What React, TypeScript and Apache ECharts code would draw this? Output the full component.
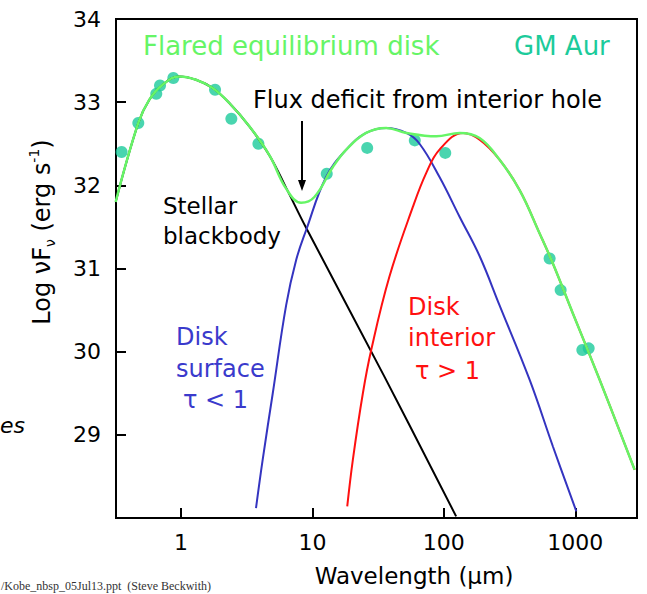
import React, { useEffect, useRef } from "react";
import * as echarts from "echarts";

// Axis extents and ticks (wavelength in microns, log10 of nu*F_nu in erg/s)
const WAVELENGTH_RANGE_UM = [0.32, 2950];
const LOG_FLUX_RANGE = [28, 34];
const X_TICKS_UM = [1, 10, 100, 1000];

// Stellar blackbody
const STAR_UM = [0.318, 0.473, 0.574, 0.724, 0.97, 1.3, 1.74, 2.33, 3.31, 4.71, 6.31, 8.95, 35.3, 124];
const STAR_FLUX = [31.8, 32.75, 33.03, 33.21, 33.31, 33.27, 33.17, 32.99, 32.71, 32.36, 31.97, 31.49, 29.7, 28.02];

// Optically thin disk surface (tau < 1)
const SURFACE_UM = [3.72, 4.18, 4.99, 6.31, 7.51, 8.95, 12.7, 18.1, 25.6, 36.4, 51.8, 65.3, 92.7, 132, 187, 265, 450, 676, 1019];
const SURFACE_FLUX = [28.12, 28.7, 29.5, 30.56, 31.1, 31.46, 32.1, 32.43, 32.63, 32.69, 32.63, 32.5, 32.1, 31.62, 31.15, 30.56, 29.66, 28.86, 28.08];

// Optically thick disk interior (tau > 1)
const INTERIOR_UM = [18.4, 20.3, 24.2, 28.0, 38.5, 58.1, 73.5, 92.7, 140, 187, 265, 378, 536, 676, 959, 1535, 2831];
const INTERIOR_FLUX = [28.14, 28.7, 29.5, 30.02, 30.9, 31.74, 32.15, 32.43, 32.63, 32.55, 32.31, 31.94, 31.42, 31.06, 30.46, 29.66, 28.58];

// Flared equilibrium disk model (total)
const MODEL_UM = [0.318, 0.473, 0.574, 0.724, 0.97, 1.3, 1.74, 2.33, 3.31, 4.71, 6.31, 8.2, 10.35, 14.3, 18.1, 25.6, 36.4, 51.8, 87.5, 132, 187, 265, 378, 536, 676, 959, 1535, 2831];
const MODEL_FLUX = [31.8, 32.75, 33.03, 33.21, 33.31, 33.27, 33.17, 32.99, 32.71, 32.36, 31.96, 31.79, 31.86, 32.22, 32.43, 32.63, 32.69, 32.63, 32.59, 32.63, 32.57, 32.31, 31.94, 31.42, 31.06, 30.46, 29.66, 28.58];

// GM Aur photometry
const OBS_UM = [0.353, 0.473, 0.648, 0.692, 0.874, 1.815, 2.415, 3.88, 12.85, 26.1, 60.1, 102.5, 638, 774, 1132, 1265];
const OBS_FLUX = [32.4, 32.75, 33.1, 33.2, 33.29, 33.15, 32.8, 32.5, 32.14, 32.45, 32.54, 32.39, 31.12, 30.74, 30.02, 30.04];

const FONT = "DejaVu Sans";
const GREEN = "#66f566";
const TEAL = "#1ccb9b";
const BLUE_LINE = "#3434c0";
const BLUE_TEXT = "#3a3acc";
const RED = "#ff1010";

const toPoints = (um: number[], flux: number[]) => um.map((w, i) => [Math.log10(w), flux[i]]);

const label = (text: string, x: number, y: number, fill: string, size: number, extra: any = {}) => ({
  type: "text",
  x,
  y,
  silent: true,
  style: { text, fill, fontSize: size, fontFamily: FONT, align: "left", verticalAlign: "middle", ...extra },
});

export default function App() {
  const ref = useRef<HTMLDivElement>(null);

  useEffect(() => {
    document.body.style.margin = "0";
    const chart = echarts.init(ref.current!, null, { renderer: "svg" });
    const lineSeries = (name: string, um: number[], flux: number[], color: string, width: number) => ({
      name,
      type: "line",
      data: toPoints(um, flux),
      smooth: 0.4,
      symbol: "none",
      lineStyle: { color, width },
      silent: true,
    });

    chart.setOption({
      animation: false,
      grid: { left: 116, top: 19, right: 10, bottom: 76, show: true, borderColor: "#000", borderWidth: 2 },
      xAxis: {
        type: "value",
        min: Math.log10(WAVELENGTH_RANGE_UM[0]),
        max: Math.log10(WAVELENGTH_RANGE_UM[1]),
        splitLine: { show: false },
        axisLine: { onZero: false, lineStyle: { color: "#000", width: 2 } },
        axisTick: {
          inside: true,
          length: 10,
          customValues: X_TICKS_UM.map((v) => Math.log10(v)),
          lineStyle: { color: "#000", width: 2 },
        },
        axisLabel: {
          customValues: X_TICKS_UM.map((v) => Math.log10(v)),
          formatter: (v: number) => String(Math.round(Math.pow(10, v))),
          color: "#000",
          fontSize: 22,
          fontFamily: FONT,
          margin: 13,
        },
      },
      yAxis: {
        type: "value",
        min: LOG_FLUX_RANGE[0],
        max: LOG_FLUX_RANGE[1],
        interval: 1,
        splitLine: { show: false },
        axisLine: { onZero: false, lineStyle: { color: "#000", width: 2 } },
        axisTick: { inside: true, length: 10, lineStyle: { color: "#000", width: 2 } },
        axisLabel: {
          formatter: (v: number) => (v === LOG_FLUX_RANGE[0] ? "" : String(v)),
          color: "#000",
          fontSize: 22,
          fontFamily: FONT,
          margin: 15,
        },
      },
      series: [
        lineSeries("Stellar blackbody", STAR_UM, STAR_FLUX, "#000", 2),
        lineSeries("Disk surface", SURFACE_UM, SURFACE_FLUX, BLUE_LINE, 2),
        lineSeries("Disk interior", INTERIOR_UM, INTERIOR_FLUX, RED, 2),
        lineSeries("Flared equilibrium disk", MODEL_UM, MODEL_FLUX, GREEN, 2.5),
        {
          name: "GM Aur",
          type: "scatter",
          data: toPoints(OBS_UM, OBS_FLUX),
          symbol: "circle",
          symbolSize: 12,
          itemStyle: { color: TEAL },
          silent: true,
        },
      ],
      graphic: [
        label("Flared equilibrium disk", 143, 46, GREEN, 26),
        label("GM Aur", 514, 46, TEAL, 26),
        label("Flux deficit from interior hole", 253, 100, "#000", 24),
        {
          type: "line",
          silent: true,
          shape: { x1: 302, y1: 121, x2: 302, y2: 182 },
          style: { stroke: "#000", lineWidth: 2 },
        },
        {
          type: "polygon",
          silent: true,
          shape: { points: [[298, 180], [306, 180], [302, 191]] },
          style: { fill: "#000" },
        },
        label("Stellar", 163, 206, "#000", 23),
        label("blackbody", 163, 236, "#000", 23),
        label("Disk", 176, 337, BLUE_TEXT, 24),
        label("surface", 176, 369, BLUE_TEXT, 24),
        label("\u03c4 < 1", 183, 400, BLUE_TEXT, 24),
        label("Disk", 408, 307, RED, 24),
        label("interior", 408, 338, RED, 24),
        label("\u03c4 > 1", 415, 371, RED, 24),
        label("es", 25, 425, "#000", 22, { align: "right", fontStyle: "italic" }),
        {
          type: "text",
          x: 1,
          y: 580,
          silent: true,
          style: {
            text: "/Kobe_nbsp_05Jul13.ppt  (Steve Beckwith)",
            fill: "#333",
            fontSize: 12,
            fontFamily: "Liberation Serif",
            align: "left",
            verticalAlign: "top",
          },
        },
        {
          type: "text",
          x: 414,
          y: 576,
          silent: true,
          style: {
            text: "Wavelength (\u03bcm)",
            fill: "#000",
            fontSize: 23,
            fontFamily: FONT,
            align: "center",
            verticalAlign: "middle",
          },
        },
        {
          type: "text",
          x: 42,
          y: 232,
          rotation: Math.PI / 2,
          silent: true,
          style: {
            text: "{m|Log \u03bdF}{sub|\u03bd}{m| (erg s}{sup|-1}{m|)}",
            align: "center",
            verticalAlign: "middle",
            rich: {
              m: { fontSize: 24, fontFamily: FONT, fill: "#000", lineHeight: 30 },
              sub: { fontSize: 14, fontFamily: FONT, fill: "#000", lineHeight: 14, verticalAlign: "bottom" },
              sup: { fontSize: 14, fontFamily: FONT, fill: "#000", lineHeight: 14, verticalAlign: "top" },
            },
          },
        },
      ],
    });
    return () => chart.dispose();
  }, []);

  return <div ref={ref} style={{ width: 647, height: 594 }} />;
}
